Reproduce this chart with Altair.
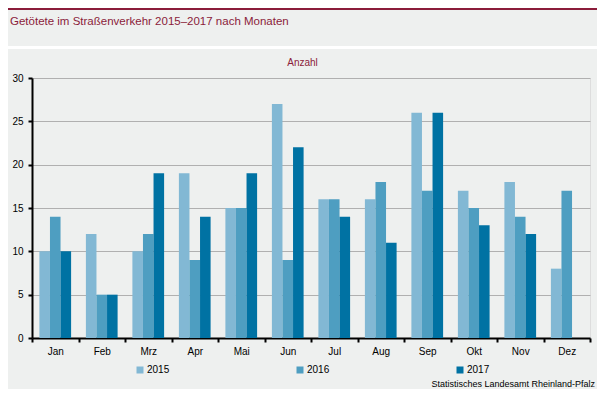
import altair as alt
import pandas as pd

months = ["Jan", "Feb", "Mrz", "Apr", "Mai", "Jun", "Jul", "Aug", "Sep", "Okt", "Nov", "Dez"]
years = ["2015", "2016", "2017"]
v2015 = [10, 12, 10, 19, 15, 27, 16, 16, 26, 17, 18, 8]
v2016 = [14, 5, 12, 9, 15, 9, 16, 18, 17, 15, 14, 17]
v2017 = [10, 5, 19, 14, 19, 22, 14, 11, 26, 13, 12, None]
colors = ["#82b8d4", "#4e9ec1", "#0072a3"]

title_text = "Getötete im Straßenverkehr 2015–2017 nach Monaten"
source_text = "Statistisches Landesamt Rheinland-Pfalz"
unit_text = "Anzahl"

rows = []
for y, vals in zip(years, [v2015, v2016, v2017]):
    for m, v in zip(months, vals):
        if v is not None:
            rows.append({"Monat": m, "Jahr": y, "Anzahl": v})
df = pd.DataFrame(rows)

RED = "#8b1c3a"
BG = "#eef0ef"
W, H = 558, 260

bars = alt.Chart(df).mark_bar().encode(
    x=alt.X("Monat:N", sort=months,
            scale=alt.Scale(paddingInner=0, paddingOuter=0),
            axis=alt.Axis(title=None, labelAngle=0, tickBand="extent", grid=False,
                          domainColor="black", domainWidth=2, tickColor="black",
                          tickWidth=2, tickSize=4, labelPadding=4, labelFontSize=10,
                          labelColor="black")),
    xOffset=alt.XOffset("Jahr:N", scale=alt.Scale(domain=years, paddingInner=0, paddingOuter=0.7)),
    y=alt.Y("Anzahl:Q", scale=alt.Scale(domain=[0, 30], nice=False),
            axis=alt.Axis(title=unit_text, titleAngle=0, titleX=270, titleY=-16,
                          titleAlign="center", titleBaseline="middle", titleColor=RED,
                          titleFontSize=10, titleFontWeight="normal",
                          values=[0, 5, 10, 15, 20, 25, 30], grid=True,
                          gridColor="#b0b0b0", gridWidth=1,
                          domainColor="black", domainWidth=2, tickColor="black",
                          tickWidth=2, tickSize=4, labelPadding=5, labelFontSize=10,
                          labelColor="black")),
    color=alt.Color("Jahr:N", scale=alt.Scale(domain=years, range=colors),
                    legend=alt.Legend(title=None, orient="none", legendX=103, legendY=287,
                                      direction="horizontal", columnPadding=125,
                                      symbolType="square", symbolSize=49,
                                      symbolStrokeWidth=0, labelFontSize=10,
                                      labelColor="black", labelOffset=2)),
)

one = pd.DataFrame({"t": [title_text], "s": [source_text]})

top_line = alt.Chart(one).mark_rule(color=RED, strokeWidth=2).encode(
    x=alt.value(-24), x2=alt.value(565), y=alt.value(-69))
sep_line = alt.Chart(one).mark_rule(color="white", strokeWidth=3).encode(
    x=alt.value(-24), x2=alt.value(565), y=alt.value(-30.5))
title = alt.Chart(one).mark_text(align="left", baseline="middle", fontSize=11.5,
                                 color=RED).encode(
    x=alt.value(-22), y=alt.value(-56), text="t:N")
source = alt.Chart(one).mark_text(align="right", baseline="middle", fontSize=9,
                                  color="black").encode(
    x=alt.value(563), y=alt.value(306), text="s:N")

chart = alt.layer(bars, top_line, sep_line, title, source).properties(
    width=W, height=H,
    autosize=alt.AutoSizeParams(type="none"),
    padding={"left": 24, "top": 70, "right": 7, "bottom": 51},
    background=BG,
).configure_view(stroke=None).configure(font="Liberation Sans")

chart.save("out.html", embed_options={"renderer": "svg", "actions": False})
